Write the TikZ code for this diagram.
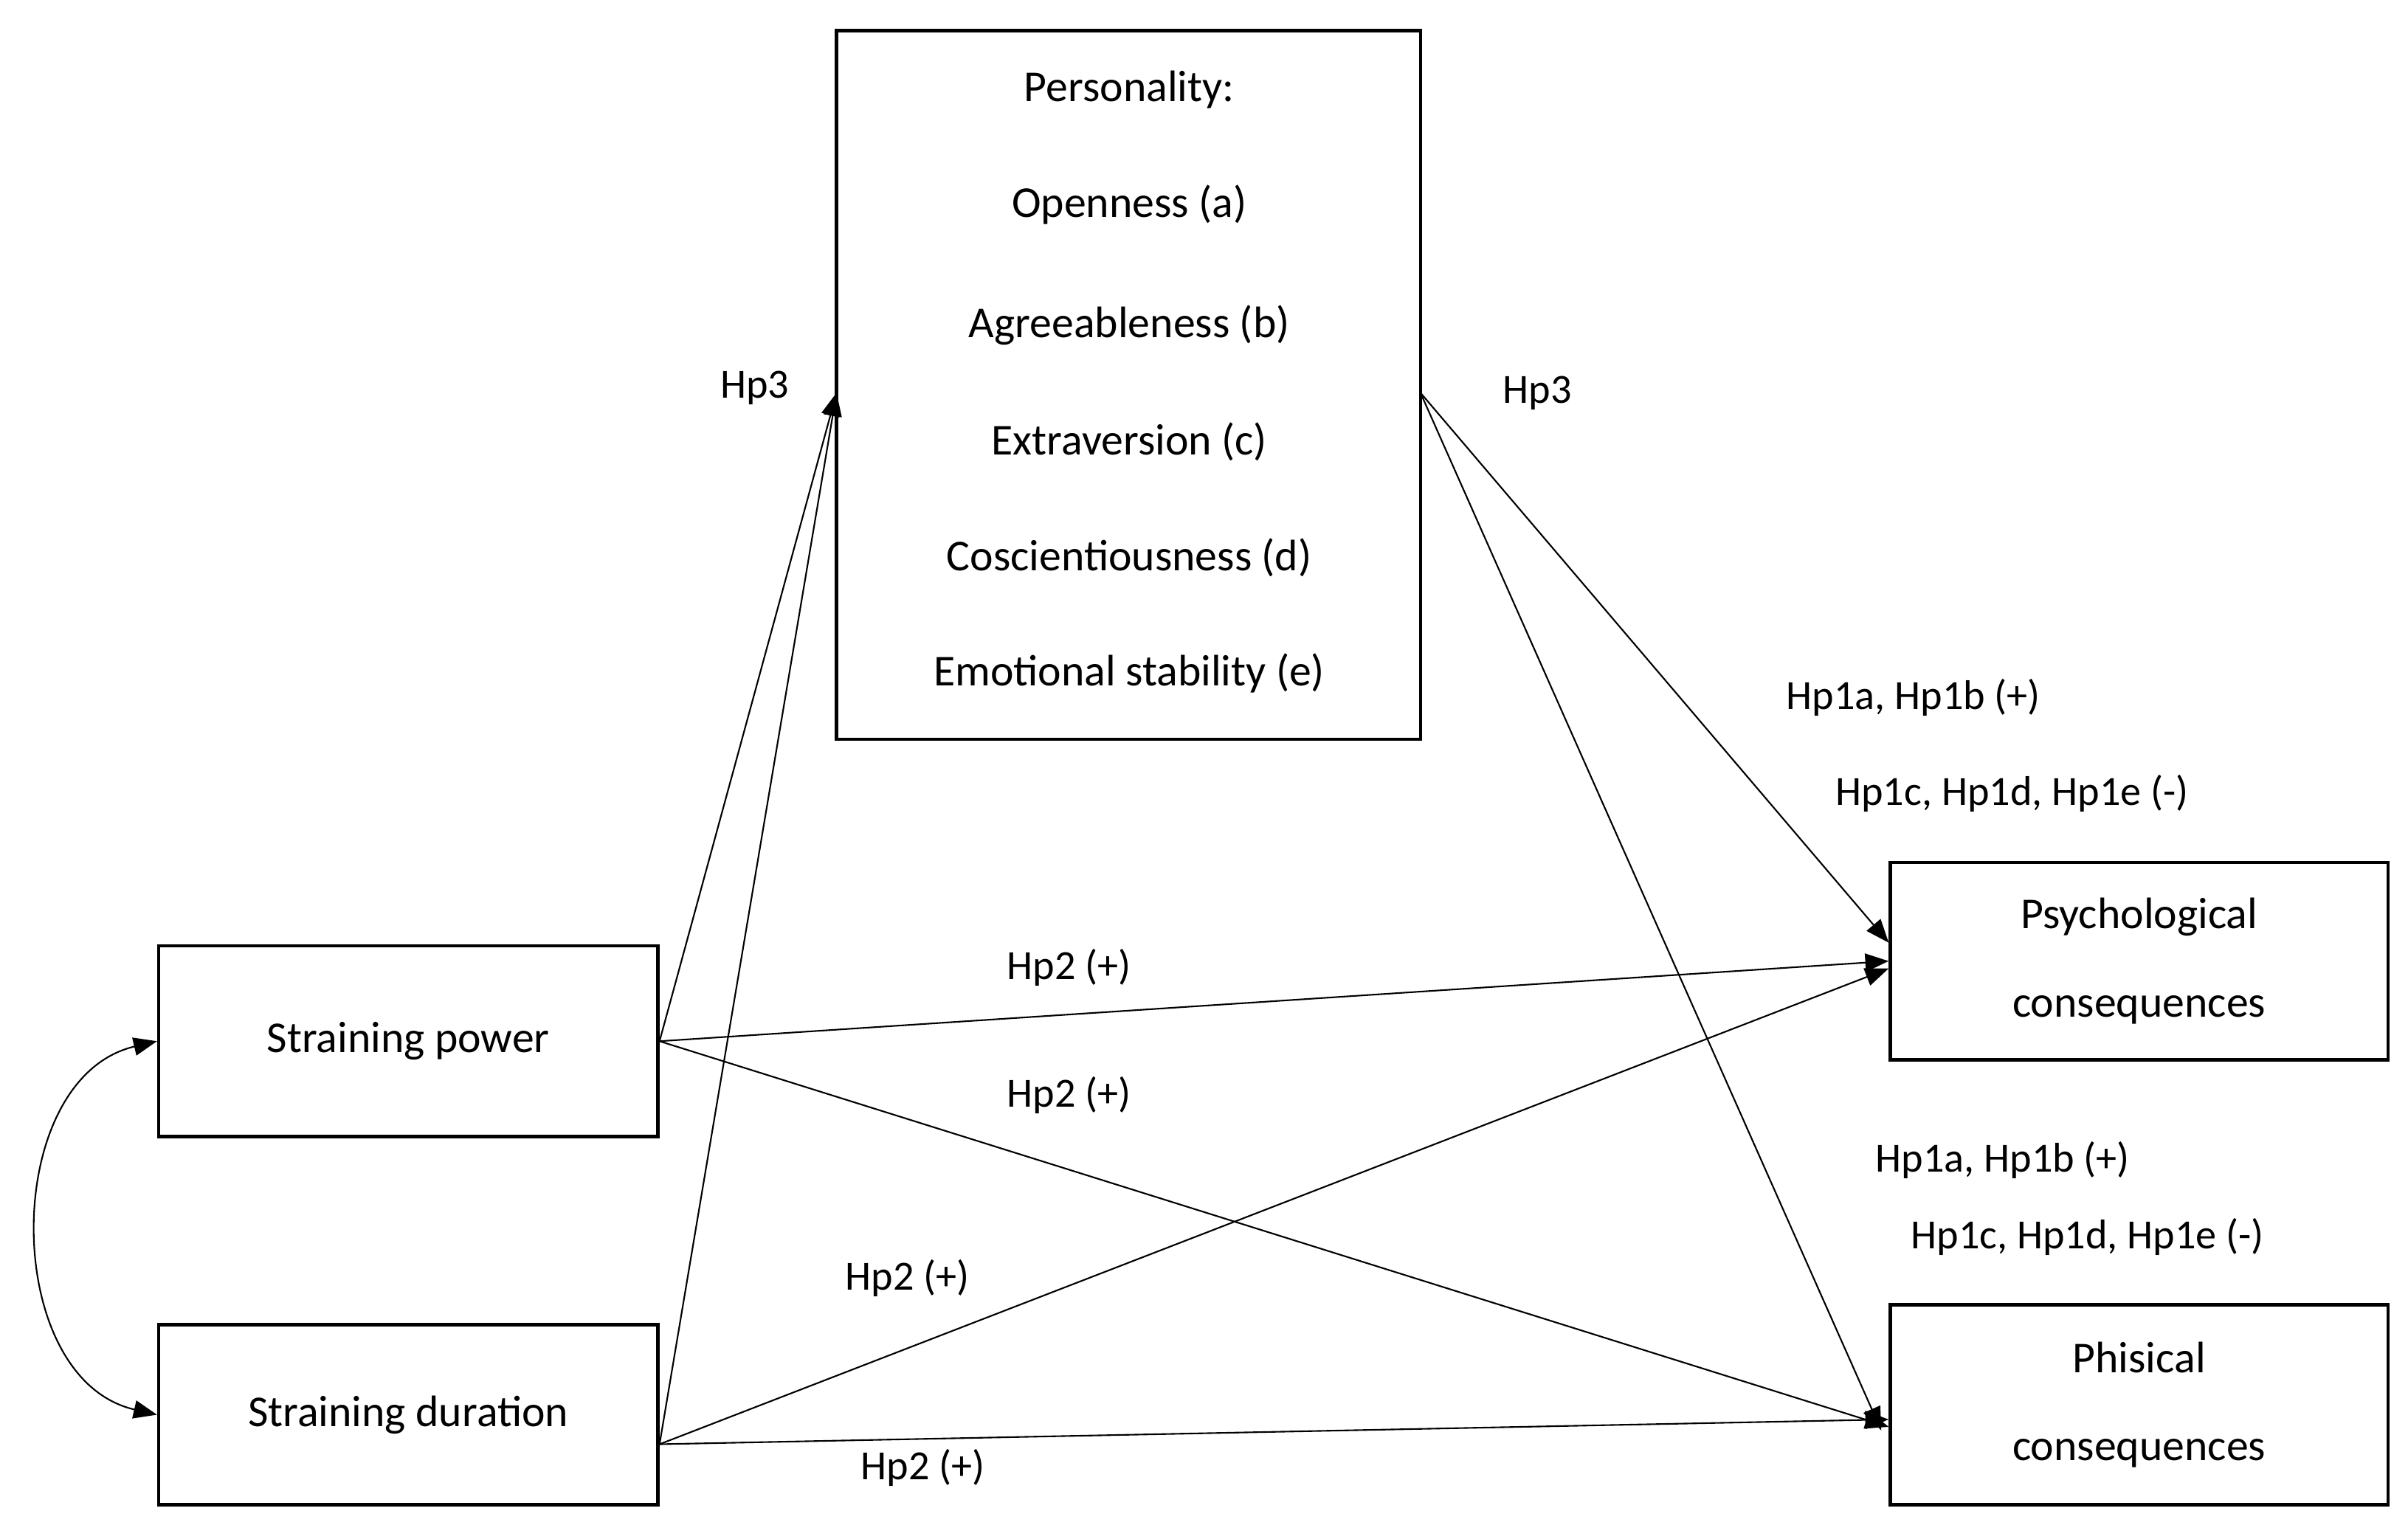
\documentclass[tikz,border=0pt]{standalone}
\usepackage{fontspec}
\setmainfont{Carlito}
\usetikzlibrary{arrows.meta}
\begin{document}
\begin{tikzpicture}[x=0.02088cm,y=-0.02088cm,
  box/.style={draw,line width=1.3pt,inner sep=0pt,align=center,font=\fontsize{17}{34}\selectfont},
  lab/.style={font=\fontsize{16}{19}\selectfont,inner sep=0pt},
  arr/.style={-{Triangle[length=9pt,width=7pt]},line width=0.6pt}]
\useasboundingbox (0,0) rectangle (1563,990);
\node[box,minimum width=379*0.02088cm,minimum height=460*0.02088cm] (P) at (732.5,250) {};
\foreach \t/\y [count=\i] in {Personality:/58,Openness (a)/133,Agreeableness (b)/211,Extraversion (c)/287,Coscientiousness (d)/362,Emotional stability (e)/437}
  \node[font=\fontsize{17}{20}\selectfont] (p\i) at (733,\y) {\t};
\node[box,minimum width=324*0.02088cm,minimum height=124*0.02088cm] (SP) at (265,676) {Straining power};
\node[box,minimum width=324*0.02088cm,minimum height=117*0.02088cm] (SD) at (265,918.5) {Straining duration};
\node[box,minimum width=323*0.02088cm,minimum height=128*0.02088cm] (PS) at (1388.5,624) {Psychological\\consequences};
\node[box,minimum width=323*0.02088cm,minimum height=130*0.02088cm] (PH) at (1388.5,912) {Phisical\\consequences};
\coordinate (pl) at (543,255);
\coordinate (pr) at (922,255);
\draw[arr] (SP.east) -- (pl);
\draw[arr] ([yshift=-0.4cm]SD.east) -- (pl);
\draw[arr] (pr) -- ([yshift=0.25cm]PS.west);
\draw[arr] (pr) -- ([xshift=-0.1cm,yshift=-0.35cm]PH.west);
\draw[arr] (SP.east) -- (PS.west);
\draw[arr] (SP.east) -- ([yshift=-0.3cm]PH.west);
\draw[arr] ([yshift=-0.4cm]SD.east) -- ([yshift=-0.1cm]PS.west);
\draw[arr] ([yshift=-0.4cm]SD.east) -- ([yshift=-0.2cm]PH.west);
\draw[{Triangle[length=9pt,width=7pt]}-{Triangle[length=9pt,width=7pt]},line width=0.6pt] (SP.west) .. controls (0,700) and (0,895) .. (SD.west);
\node[lab] (l1) at (490,252) {Hp3};
\node[lab] (l2) at (998,255) {Hp3};
\node[lab] (l3) at (1242,453) {Hp1a, Hp1b (+)};
\node[lab] (l4) at (1306,515) {Hp1c, Hp1d, Hp1e (-)};
\node[lab] (l5) at (694,628) {Hp2 (+)};
\node[lab] (l6) at (694,711) {Hp2 (+)};
\node[lab] (l7) at (589,830) {Hp2 (+)};
\node[lab] (l8) at (599,953) {Hp2 (+)};
\node[lab] (l9) at (1300,753) {Hp1a, Hp1b (+)};
\node[lab] (l10) at (1355,803) {Hp1c, Hp1d, Hp1e (-)};
\end{tikzpicture}
\end{document}
